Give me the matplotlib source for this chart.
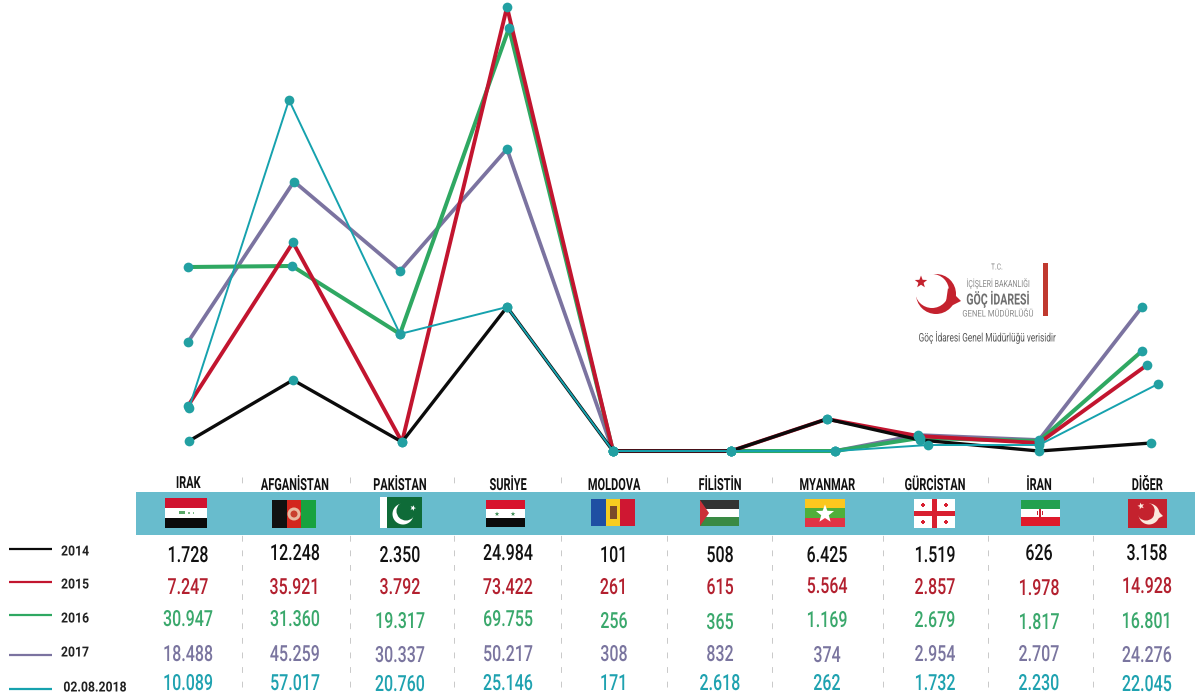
import numpy as np
import matplotlib
matplotlib.use("Agg")
import matplotlib.pyplot as plt
import matplotlib.patheffects as pe
from matplotlib.patches import Circle, Polygon, Rectangle
from matplotlib.transforms import Affine2D

plt.rcParams["font.family"] = ["Roboto", "DejaVu Sans"]

# ── data ────────────────────────────────────────
countries = ["IRAK", "AFGANİSTAN", "PAKİSTAN", "SURİYE", "MOLDOVA",
             "FİLİSTİN", "MYANMAR", "GÜRCİSTAN", "İRAN", "DİĞER"]
years = ["2014", "2015", "2016", "2017", "02.08.2018"]

# table labels
table_2014 = ["1.728", "12.248", "2.350", "24.984", "101", "508", "6.425", "1.519", "626", "3.158"]
table_2015 = ["7.247", "35.921", "3.792", "73.422", "261", "615", "5.564", "2.857", "1.978", "14.928"]
table_2016 = ["30.947", "31.360", "19.317", "69.755", "256", "365", "1.169", "2.679", "1.817", "16.801"]
table_2017 = ["18.488", "45.259", "30.337", "50.217", "308", "832", "374", "2.954", "2.707", "24.276"]
table_2018 = ["10.089", "57.017", "20.760", "25.146", "171", "2.618", "262", "1.732", "2.230", "22.045"]

# heights of the lines as drawn (the picture does not follow the labels exactly)
line_2014 = [1730, 11800, 1570, 23840, 80, 80, 5360, 1900, 80, 1400]
line_2015 = [7510, 34490, 1570, 73340, 80, 80, 5360, 2560, 1400, 14270]
line_2016 = [30440, 30610, 19390, 69880, 80, 80, 80, 2230, 1730, 16580]
line_2017 = [18070, 44550, 29780, 49910, 80, 80, 80, 2720, 1900, 23840]
line_2018 = [7180, 58000, 19390, 23840, 80, 80, 80, 1070, 1070, 11140]

tables = [table_2014, table_2015, table_2016, table_2017, table_2018]
lines = [line_2014, line_2015, line_2016, line_2017, line_2018]

# ── layout / style ──────────────────────────────
W, H = 1195, 700
PX_ZERO = 451.5      # pixel row of value 0
PX_UNIT = 165.0      # value per pixel

point_x = [188, 293, 401, 507, 613, 731, 827, 919, 1039, 1147]
point_shift = [
    [1, 0, 1, 0, 0, 0, 0, 1, 0, 4],
    [0, 0, 1, 0, 0, 0, 0, -1, 0, 0],
    [0, -1, -1, 2, 0, 0, 8, 1, 0, -5],
    [0, 1, -1, 0, 0, 0, 8, -1, 0, -5],
    [1, -4, -1, 0, 0, 0, 8, 9, 0, 11],
]
line_colors = ["#0b0b0b", "#c2152f", "#2fa862", "#7b73a0", "#16a2ae"]
line_widths = [2.4, 2.8, 2.9, 2.7, 1.4]
text_colors = ["#111111", "#b3202f", "#3aa86c", "#7a759f", "#1fa2b0"]
draw_order = [3, 2, 1, 0, 4]
MARKER = "#22a0a2"
BAND = "#68bccd"

col_x = [188, 295, 400, 508, 614, 720, 827, 935, 1039, 1147]
sep_x = [242, 350, 454, 561, 667, 772, 883, 988, 1093]
row_y = [
    [554, 552, 554, 552, 554, 554, 554, 554, 552, 552],
    [586, 586, 586, 586, 586, 586, 585, 586, 587, 585],
    [618, 618, 620, 618, 620, 621, 619, 619, 621, 620],
    [653, 653, 654, 653, 653, 653, 654, 653, 653, 654],
    [682, 682, 683, 682, 682, 682, 682, 682, 682, 683],
]
head_y = [482, 484, 484, 484, 484, 484, 484, 484, 484, 484]
legend_line_y = [549, 582, 615, 655, 689]
legend_text_y = [550, 583, 617, 651, 686]
legend_text_x = [75, 75, 75, 75, 95]


class Squeeze(pe.AbstractPathEffect):
    """Narrows the text around its own centre (no condensed font here)."""

    def __init__(self, sx):
        super().__init__()
        self.sx = sx

    def draw_path(self, renderer, gc, tpath, affine, rgbFace=None):
        ext = tpath.get_extents()
        cx = (ext.x0 + ext.x1) / 2
        t = Affine2D().translate(-cx, 0).scale(self.sx, 1).translate(cx, 0)
        renderer.draw_path(gc, tpath, t + affine, rgbFace)


fig = plt.figure(figsize=(W / 100, H / 100), dpi=100)
ax = fig.add_axes([0, 0, 1, 1])
ax.set_xlim(0, W)
ax.set_ylim(H, 0)
ax.axis("off")


def label(x, y, s, size, color, sx, weight="normal", z=6):
    t = ax.text(x, y, s, ha="center", va="center_baseline", fontsize=size, color=color, fontweight=weight, zorder=z)
    t.set_path_effects([Squeeze(sx)])
    return t


def rect(x0, y0, x1, y1, color, z=3):
    ax.add_patch(Rectangle((x0, y0), x1 - x0, y1 - y0, fc=color, ec="none", zorder=z))


def star(cx, cy, r, color, rot=0, z=4):
    ang = np.deg2rad(np.arange(10) * 36 - 90 + rot)
    rad = np.where(np.arange(10) % 2 == 0, r, r * 0.42)
    pts = np.c_[cx + rad * np.cos(ang), cy + rad * np.sin(ang)]
    ax.add_patch(Polygon(pts, fc=color, ec="none", zorder=z))


def crescent(cx, cy, r, color, ix, iy, ir, bg, z=4):
    ax.add_patch(Circle((cx, cy), r, fc=color, ec="none", zorder=z))
    ax.add_patch(Circle((ix, iy), ir, fc=bg, ec="none", zorder=z + 0.1))


def stripes_h(x0, x1, y0, y1, colors):
    edges = np.linspace(y0, y1, len(colors) + 1)
    for c, a, b in zip(colors, edges[:-1], edges[1:]):
        rect(x0, a, x1, b, c)


def stripes_v(x0, x1, y0, y1, colors):
    edges = np.linspace(x0, x1, len(colors) + 1)
    for c, a, b in zip(colors, edges[:-1], edges[1:]):
        rect(a, y0, b, y1, c)


def draw_flags():
    # Irak
    stripes_h(165, 207, 498, 528, ["#d0132f", "#ffffff", "#0b0b0b"])
    rect(179, 511, 185, 514, "#5aa868", 4)
    rect(188, 512, 190, 514, "#7dbb88", 4)
    rect(193, 512, 194, 514, "#7dbb88", 4)
    # Afganistan
    stripes_v(272, 316, 500, 528, ["#111111", "#d3261d", "#18a23f"])
    ax.add_patch(Circle((294, 514), 6.5, fc="#e9b9a0", ec="none", zorder=4))
    ax.add_patch(Circle((294, 514), 3.5, fc="#c9402e", ec="none", zorder=4.1))
    # Pakistan
    rect(380, 497, 387, 528, "#ffffff")
    rect(387, 497, 422, 528, "#0f6b38")
    crescent(403, 514, 10.5, "#ffffff", 406, 511, 9.5, "#0f6b38")
    star(413, 508, 3, "#ffffff", 20, 4.5)
    # Suriye
    stripes_h(486, 525, 500, 527, ["#d8132d", "#ffffff", "#0b0b0b"])
    star(497, 514, 2.4, "#3f8d58")
    star(513, 514, 2.4, "#3f8d58")
    # Moldova
    stripes_v(591, 635, 499, 526, ["#1f4fa3", "#f7cd20", "#cf1732"])
    rect(610, 506, 617, 519, "#7a4a2a", 4)
    # Filistin
    stripes_h(700, 739, 500, 526, ["#333333", "#ffffff", "#3a8a44"])
    ax.add_patch(Polygon([(700, 500), (700, 526), (709, 513)], fc="#cb3038", ec="none", zorder=4))
    # Myanmar
    stripes_h(805, 845, 499, 527, ["#fcc71e", "#4faf3a", "#e23345"])
    star(825, 514, 9.5, "#ffffff")
    # Gürcistan
    rect(914, 499, 955, 528, "#ffffff")
    rect(932, 499, 937, 528, "#d81f30", 4)
    rect(914, 511, 955, 516, "#d81f30", 4)
    for cx in (923, 946):
        for cy in (505, 522):
            rect(cx - 2.4, cy - 0.7, cx + 2.4, cy + 0.7, "#d81f30", 4)
            rect(cx - 0.7, cy - 2.4, cx + 0.7, cy + 2.4, "#d81f30", 4)
    # İran
    stripes_h(1021, 1060, 500, 526, ["#22a04e", "#ffffff", "#de1a2b"])
    rect(1039, 509, 1041, 517, "#c8202e", 4)
    rect(1037, 511, 1038, 515, "#c8202e", 4)
    rect(1042, 511, 1043, 515, "#c8202e", 4)
    # Diğer
    rect(1128, 499, 1167, 528, "#c4222e")
    crescent(1149, 514, 10.5, "#fbe9dd", 1146, 511.5, 9, "#c4222e")
    ax.add_patch(Polygon([(1155, 508), (1163, 516), (1153, 521)], fc="#fbe9dd", ec="none", zorder=4.2))
    star(1141, 506, 3.5, "#fbe9dd", -15, 4.5)


def draw_logo():
    red = "#c4222e"
    crescent(936, 294, 20, red, 932, 291, 17, "white", 2)
    ax.add_patch(Polygon([(948, 288), (961, 301), (945, 309)], fc=red, ec="none", zorder=2.2))
    star(921, 282, 6.5, red, 0, 2.3)
    rect(1043, 263, 1048, 316, "#c0392f", 2)
    gray = "#8a8a8a"
    label(997, 267, "T.C.", 6, gray, 0.8)
    label(998, 282, "İÇİŞLERİ BAKANLIĞI", 7, gray, 0.72)
    label(998, 298, "GÖÇ İDARESİ", 11, "#6e6e6e", 0.69, weight="bold")
    label(998, 313, "GENEL MÜDÜRLÜĞÜ", 6.5, gray, 0.85)
    label(986, 336, "Göç İdaresi Genel Müdürlüğü verisidir", 8.5, "#555555", 0.7)


# ── separators, band, flags ─────────────────────
for x in sep_x:
    ax.plot([x, x], [477, 692], color="#c9c9c9", lw=0.7, ls=(0, (6, 9)), zorder=1)
rect(136, 492, W, 535, BAND, 2)
draw_flags()
draw_logo()

# ── lines (real value axis, sharing the figure area) ────────
ax_l = fig.add_axes([0, 0, 1, 1], facecolor="none")
ax_l.set_xlim(0, W)
ax_l.set_ylim((PX_ZERO - H) * PX_UNIT, PX_ZERO * PX_UNIT)
ax_l.axis("off")
for k, i in enumerate(draw_order):
    xs = np.array(point_x) + np.array(point_shift[i])
    ax_l.plot(xs, lines[i], color=line_colors[i], lw=line_widths[i], solid_joinstyle="miter", zorder=3 + k * 0.1)
for i in draw_order:
    xs = np.array(point_x) + np.array(point_shift[i])
    ax_l.plot(xs, lines[i], ls="none", marker="o", ms=7, mfc=MARKER, mec="none", zorder=5)

# ── table ───────────────────────────────────────
for x, y, name in zip(col_x, head_y, countries):
    label(x, y, name, 12, "#111111", 0.66, weight="bold")

for r, row in enumerate(tables):
    for x, y, s in zip(col_x, row_y[r], row):
        label(x, y, s, 16, text_colors[r], 0.72, weight="medium")

# ── legend ──────────────────────────────────────
for i, year in enumerate(years):
    ax.plot([9, 52], [legend_line_y[i]] * 2, color=line_colors[i], lw=1.6, solid_capstyle="butt")
    label(legend_text_x[i], legend_text_y[i], year, 10, "#222222", 0.88, weight="bold")

fig.savefig("out.png", dpi=100)
